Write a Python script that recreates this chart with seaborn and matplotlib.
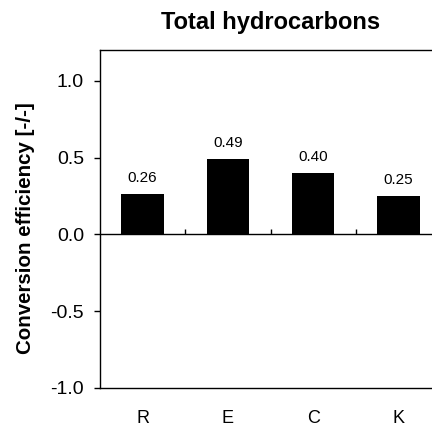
import matplotlib
matplotlib.use("Agg")
import matplotlib.pyplot as plt
import seaborn as sns
import pandas as pd

categories = ["R", "E", "C", "K"]
values = [0.26, 0.49, 0.40, 0.25]
value_labels = ["0.26", "0.49", "0.40", "0.25"]
yticks = [-1.0, -0.5, 0.0, 0.5, 1.0]
ytick_labels = ["-1.0", "-0.5", "0.0", "0.5", "1.0"]
title = "Total hydrocarbons"
ylabel = "Conversion efficiency [-/-]"

sns.set_style("white")
plt.rcParams["font.family"] = ["Liberation Sans", "DejaVu Sans"]
plt.rcParams["text.color"] = "black"
plt.rcParams["axes.labelcolor"] = "black"
plt.rcParams["xtick.color"] = "black"
plt.rcParams["ytick.color"] = "black"

df = pd.DataFrame({"cat": categories, "val": values})

fig = plt.figure(figsize=(4.32, 4.29), dpi=100)
ax = fig.add_axes([100/432, 41/429, 341/432, 338/429])

sns.barplot(data=df, x="cat", y="val", color="black", width=0.5,
            edgecolor="black", linewidth=0, ax=ax)

ax.set_xlim(-0.5, 3.5)
ax.set_ylim(-1.0, 1.2)
ax.axhline(0, color="black", lw=1.0, zorder=3)
ax.vlines([0.5, 1.5, 2.5], 0, 0.035, color="black", lw=1.0, zorder=3)

for i, (v, lab) in enumerate(zip(values, value_labels)):
    ax.text(i, v + 0.06, lab, ha="center", va="bottom", fontsize=11, color="black")

ax.set_yticks(yticks)
ax.set_yticklabels(ytick_labels, fontsize=14)
ax.tick_params(axis="y", direction="out", length=4.5, width=1, color="black",
               labelcolor="black", pad=7, left=True)
ax.set_xticks(range(len(categories)))
ax.set_xticklabels(categories, fontsize=13)
ax.tick_params(axis="x", length=0, pad=16, labelcolor="black")

for s in ["left", "bottom", "top"]:
    ax.spines[s].set_visible(True)
    ax.spines[s].set_color("black")
    ax.spines[s].set_linewidth(1.0)
ax.spines["right"].set_visible(False)

ax.set_xlabel("")
ax.set_ylabel(ylabel, fontsize=14.8, fontweight="bold", color="black")
ax.yaxis.set_label_coords(-0.192, 0.473)
ax.set_title(title, fontsize=17, fontweight="bold", pad=15, color="black")

fig.savefig("out.png", dpi=100)
